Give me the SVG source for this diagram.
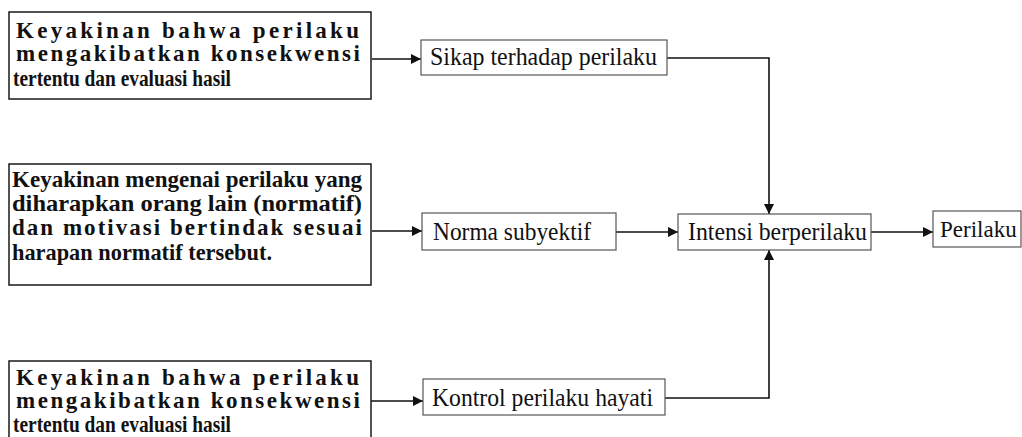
<svg xmlns="http://www.w3.org/2000/svg" width="1022" height="437" viewBox="0 0 1022 437">
<defs>
<style>
.big{fill:#fff;stroke:#1a1a1a;stroke-width:1.5}
.small{fill:#fff;stroke:#555;stroke-width:1.2}
.t{font-family:"Liberation Serif","Times New Roman",serif;font-size:23px;font-weight:bold;fill:#111}
.ts{font-family:"Liberation Serif","Times New Roman",serif;font-size:25px;fill:#111}
.tp{font-family:"Liberation Serif","Times New Roman",serif;font-size:23px;fill:#111}
.c{fill:none;stroke:#111;stroke-width:1.6}
</style>
<marker id="ah" viewBox="0 0 10 10" refX="10" refY="5" markerWidth="12" markerHeight="10" markerUnits="userSpaceOnUse" orient="auto">
<path d="M0,0 L10,5 L0,10 z" fill="#111"/>
</marker>
</defs>
<rect width="1022" height="437" fill="#fff"/>
<g id="connectors">
<path class="c" d="M372,59 H421" marker-end="url(#ah)"/>
<path class="c" d="M667,58 H769 V214" marker-end="url(#ah)"/>
<path class="c" d="M372,231 H422" marker-end="url(#ah)"/>
<path class="c" d="M616,232 H678" marker-end="url(#ah)"/>
<path class="c" d="M871,232 H933" marker-end="url(#ah)"/>
<path class="c" d="M371,401 H423" marker-end="url(#ah)"/>
<path class="c" d="M665,398 H769 V250" marker-end="url(#ah)"/>
</g>
<g id="n1">
<rect class="big" x="9" y="12" width="362" height="87"/>
<text class="t" x="16" y="38" textLength="343" lengthAdjust="spacing">Keyakinan bahwa perilaku</text>
<text class="t" x="16" y="61" textLength="344" lengthAdjust="spacing">mengakibatkan konsekwensi</text>
<text class="t" x="13" y="86" textLength="218" lengthAdjust="spacingAndGlyphs">tertentu dan evaluasi hasil</text>
</g>
<g id="n2">
<rect class="big" x="9" y="164" width="362" height="121"/>
<text class="t" x="12" y="187" textLength="350" lengthAdjust="spacingAndGlyphs">Keyakinan mengenai perilaku yang</text>
<text class="t" x="12" y="211" textLength="350" lengthAdjust="spacingAndGlyphs">diharapkan orang lain (normatif)</text>
<text class="t" x="12" y="235" textLength="350" lengthAdjust="spacing">dan motivasi bertindak sesuai</text>
<text class="t" x="12" y="260" textLength="260" lengthAdjust="spacingAndGlyphs">harapan normatif tersebut.</text>
</g>
<g id="n3">
<rect class="big" x="9" y="361" width="362" height="85"/>
<text class="t" x="16" y="385" textLength="343" lengthAdjust="spacing">Keyakinan bahwa perilaku</text>
<text class="t" x="16" y="408" textLength="344" lengthAdjust="spacing">mengakibatkan konsekwensi</text>
<text class="t" x="13" y="432" textLength="218" lengthAdjust="spacingAndGlyphs">tertentu dan evaluasi hasil</text>
</g>
<g id="sikap">
<rect class="small" x="421" y="40" width="246" height="35"/>
<text class="ts" x="430" y="65" textLength="227" lengthAdjust="spacingAndGlyphs">Sikap terhadap perilaku</text>
</g>
<g id="norma">
<rect class="small" x="422" y="213" width="194" height="37"/>
<text class="ts" x="433" y="240" textLength="158" lengthAdjust="spacingAndGlyphs">Norma subyektif</text>
</g>
<g id="kontrol">
<rect class="small" x="423" y="379" width="242" height="36"/>
<text class="ts" x="432" y="406" textLength="221" lengthAdjust="spacingAndGlyphs">Kontrol perilaku hayati</text>
</g>
<g id="intensi">
<rect class="small" x="678" y="214" width="193" height="36"/>
<text class="ts" x="688" y="240" textLength="179" lengthAdjust="spacingAndGlyphs">Intensi berperilaku</text>
</g>
<g id="perilaku">
<rect class="small" x="933" y="211" width="88" height="36"/>
<text class="tp" x="940" y="237">Perilaku</text>
</g>
</svg>
